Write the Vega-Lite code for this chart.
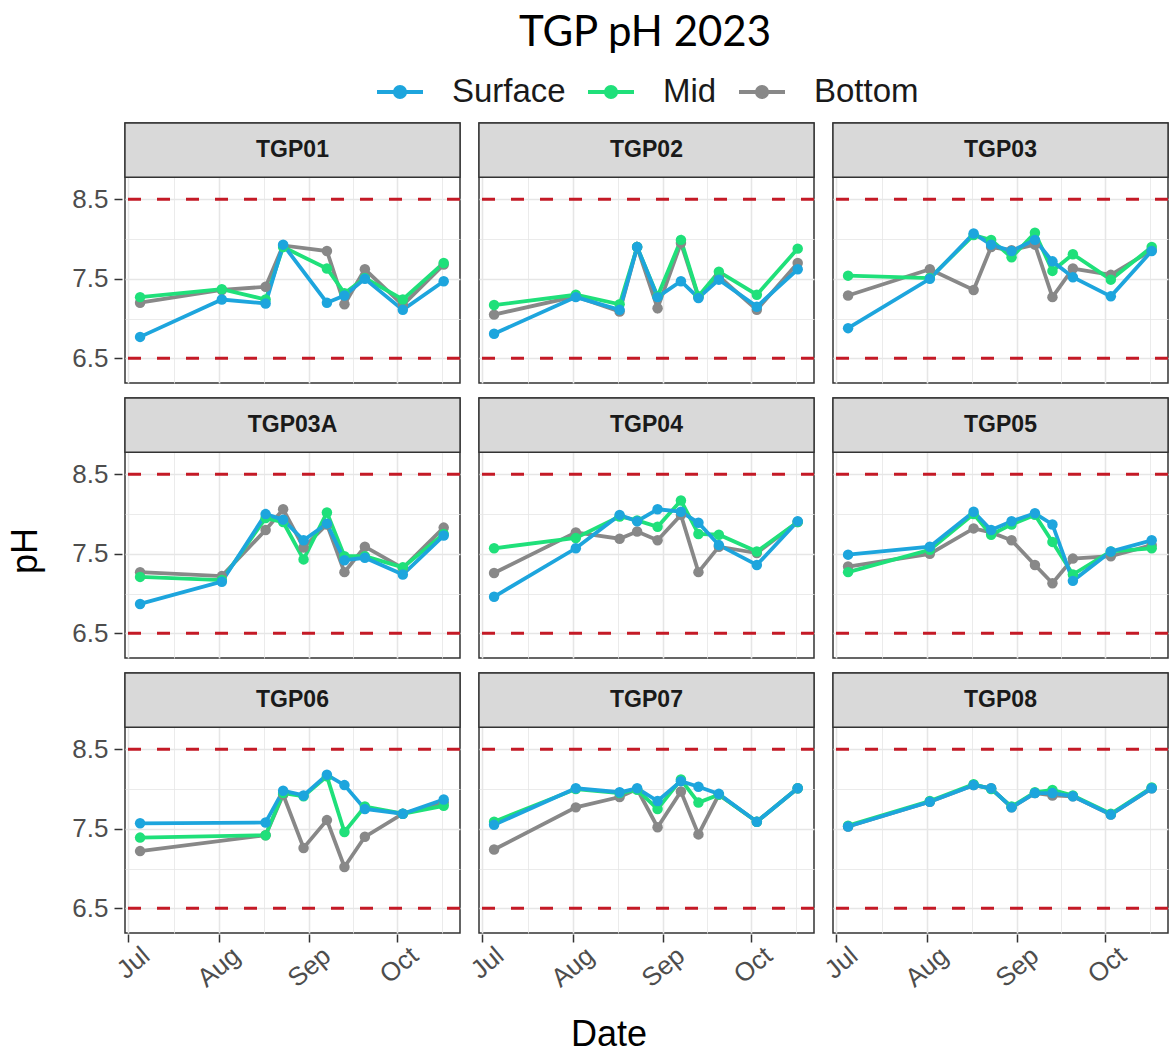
{
  "$schema": "https://vega.github.io/schema/vega-lite/v6.json",
  "background": "white",
  "padding": {"left": 8, "top": 12, "right": 0, "bottom": 0},
  "title": {"text": "TGP pH 2023", "font": "Lato", "fontSize": 42, "fontWeight": "normal", "color": "#000000", "anchor": "middle", "frame": "group", "dx": 520, "offset": 12},
  "data": {"values": [
    {"station": "TGP01", "date": "2023-07-05", "depth": "Bottom", "pH": 7.20},
    {"station": "TGP01", "date": "2023-08-02", "depth": "Bottom", "pH": 7.36},
    {"station": "TGP01", "date": "2023-08-17", "depth": "Bottom", "pH": 7.40},
    {"station": "TGP01", "date": "2023-08-23", "depth": "Bottom", "pH": 7.92},
    {"station": "TGP01", "date": "2023-09-07", "depth": "Bottom", "pH": 7.85},
    {"station": "TGP01", "date": "2023-09-13", "depth": "Bottom", "pH": 7.18},
    {"station": "TGP01", "date": "2023-09-20", "depth": "Bottom", "pH": 7.62},
    {"station": "TGP01", "date": "2023-10-03", "depth": "Bottom", "pH": 7.17},
    {"station": "TGP01", "date": "2023-10-17", "depth": "Bottom", "pH": 7.68},
    {"station": "TGP01", "date": "2023-07-05", "depth": "Mid", "pH": 7.27},
    {"station": "TGP01", "date": "2023-08-02", "depth": "Mid", "pH": 7.37},
    {"station": "TGP01", "date": "2023-08-17", "depth": "Mid", "pH": 7.24},
    {"station": "TGP01", "date": "2023-08-23", "depth": "Mid", "pH": 7.90},
    {"station": "TGP01", "date": "2023-09-07", "depth": "Mid", "pH": 7.63},
    {"station": "TGP01", "date": "2023-09-13", "depth": "Mid", "pH": 7.32},
    {"station": "TGP01", "date": "2023-09-20", "depth": "Mid", "pH": 7.51},
    {"station": "TGP01", "date": "2023-10-03", "depth": "Mid", "pH": 7.24},
    {"station": "TGP01", "date": "2023-10-17", "depth": "Mid", "pH": 7.70},
    {"station": "TGP01", "date": "2023-07-05", "depth": "Surface", "pH": 6.77},
    {"station": "TGP01", "date": "2023-08-02", "depth": "Surface", "pH": 7.24},
    {"station": "TGP01", "date": "2023-08-17", "depth": "Surface", "pH": 7.19},
    {"station": "TGP01", "date": "2023-08-23", "depth": "Surface", "pH": 7.93},
    {"station": "TGP01", "date": "2023-09-07", "depth": "Surface", "pH": 7.20},
    {"station": "TGP01", "date": "2023-09-13", "depth": "Surface", "pH": 7.29},
    {"station": "TGP01", "date": "2023-09-20", "depth": "Surface", "pH": 7.50},
    {"station": "TGP01", "date": "2023-10-03", "depth": "Surface", "pH": 7.11},
    {"station": "TGP01", "date": "2023-10-17", "depth": "Surface", "pH": 7.47},

    {"station": "TGP02", "date": "2023-07-05", "depth": "Bottom", "pH": 7.05},
    {"station": "TGP02", "date": "2023-08-02", "depth": "Bottom", "pH": 7.28},
    {"station": "TGP02", "date": "2023-08-17", "depth": "Bottom", "pH": 7.09},
    {"station": "TGP02", "date": "2023-08-23", "depth": "Bottom", "pH": 7.90},
    {"station": "TGP02", "date": "2023-08-30", "depth": "Bottom", "pH": 7.13},
    {"station": "TGP02", "date": "2023-09-07", "depth": "Bottom", "pH": 7.95},
    {"station": "TGP02", "date": "2023-09-13", "depth": "Bottom", "pH": 7.27},
    {"station": "TGP02", "date": "2023-09-20", "depth": "Bottom", "pH": 7.53},
    {"station": "TGP02", "date": "2023-10-03", "depth": "Bottom", "pH": 7.11},
    {"station": "TGP02", "date": "2023-10-17", "depth": "Bottom", "pH": 7.70},
    {"station": "TGP02", "date": "2023-07-05", "depth": "Mid", "pH": 7.17},
    {"station": "TGP02", "date": "2023-08-02", "depth": "Mid", "pH": 7.30},
    {"station": "TGP02", "date": "2023-08-17", "depth": "Mid", "pH": 7.18},
    {"station": "TGP02", "date": "2023-08-23", "depth": "Mid", "pH": 7.90},
    {"station": "TGP02", "date": "2023-08-30", "depth": "Mid", "pH": 7.28},
    {"station": "TGP02", "date": "2023-09-07", "depth": "Mid", "pH": 7.99},
    {"station": "TGP02", "date": "2023-09-13", "depth": "Mid", "pH": 7.28},
    {"station": "TGP02", "date": "2023-09-20", "depth": "Mid", "pH": 7.59},
    {"station": "TGP02", "date": "2023-10-03", "depth": "Mid", "pH": 7.30},
    {"station": "TGP02", "date": "2023-10-17", "depth": "Mid", "pH": 7.88},
    {"station": "TGP02", "date": "2023-07-05", "depth": "Surface", "pH": 6.81},
    {"station": "TGP02", "date": "2023-08-02", "depth": "Surface", "pH": 7.27},
    {"station": "TGP02", "date": "2023-08-17", "depth": "Surface", "pH": 7.11},
    {"station": "TGP02", "date": "2023-08-23", "depth": "Surface", "pH": 7.90},
    {"station": "TGP02", "date": "2023-08-30", "depth": "Surface", "pH": 7.27},
    {"station": "TGP02", "date": "2023-09-07", "depth": "Surface", "pH": 7.47},
    {"station": "TGP02", "date": "2023-09-13", "depth": "Surface", "pH": 7.26},
    {"station": "TGP02", "date": "2023-09-20", "depth": "Surface", "pH": 7.49},
    {"station": "TGP02", "date": "2023-10-03", "depth": "Surface", "pH": 7.15},
    {"station": "TGP02", "date": "2023-10-17", "depth": "Surface", "pH": 7.62},

    {"station": "TGP03", "date": "2023-07-05", "depth": "Bottom", "pH": 7.29},
    {"station": "TGP03", "date": "2023-08-02", "depth": "Bottom", "pH": 7.62},
    {"station": "TGP03", "date": "2023-08-17", "depth": "Bottom", "pH": 7.36},
    {"station": "TGP03", "date": "2023-08-23", "depth": "Bottom", "pH": 7.90},
    {"station": "TGP03", "date": "2023-08-30", "depth": "Bottom", "pH": 7.86},
    {"station": "TGP03", "date": "2023-09-07", "depth": "Bottom", "pH": 7.93},
    {"station": "TGP03", "date": "2023-09-13", "depth": "Bottom", "pH": 7.27},
    {"station": "TGP03", "date": "2023-09-20", "depth": "Bottom", "pH": 7.63},
    {"station": "TGP03", "date": "2023-10-03", "depth": "Bottom", "pH": 7.55},
    {"station": "TGP03", "date": "2023-10-17", "depth": "Bottom", "pH": 7.86},
    {"station": "TGP03", "date": "2023-07-05", "depth": "Mid", "pH": 7.54},
    {"station": "TGP03", "date": "2023-08-02", "depth": "Mid", "pH": 7.51},
    {"station": "TGP03", "date": "2023-08-17", "depth": "Mid", "pH": 8.05},
    {"station": "TGP03", "date": "2023-08-23", "depth": "Mid", "pH": 7.99},
    {"station": "TGP03", "date": "2023-08-30", "depth": "Mid", "pH": 7.77},
    {"station": "TGP03", "date": "2023-09-07", "depth": "Mid", "pH": 8.08},
    {"station": "TGP03", "date": "2023-09-13", "depth": "Mid", "pH": 7.60},
    {"station": "TGP03", "date": "2023-09-20", "depth": "Mid", "pH": 7.81},
    {"station": "TGP03", "date": "2023-10-03", "depth": "Mid", "pH": 7.49},
    {"station": "TGP03", "date": "2023-10-17", "depth": "Mid", "pH": 7.90},
    {"station": "TGP03", "date": "2023-07-05", "depth": "Surface", "pH": 6.88},
    {"station": "TGP03", "date": "2023-08-02", "depth": "Surface", "pH": 7.50},
    {"station": "TGP03", "date": "2023-08-17", "depth": "Surface", "pH": 8.07},
    {"station": "TGP03", "date": "2023-08-23", "depth": "Surface", "pH": 7.93},
    {"station": "TGP03", "date": "2023-08-30", "depth": "Surface", "pH": 7.85},
    {"station": "TGP03", "date": "2023-09-07", "depth": "Surface", "pH": 7.99},
    {"station": "TGP03", "date": "2023-09-13", "depth": "Surface", "pH": 7.72},
    {"station": "TGP03", "date": "2023-09-20", "depth": "Surface", "pH": 7.52},
    {"station": "TGP03", "date": "2023-10-03", "depth": "Surface", "pH": 7.28},
    {"station": "TGP03", "date": "2023-10-17", "depth": "Surface", "pH": 7.85},

    {"station": "TGP03A", "date": "2023-07-05", "depth": "Bottom", "pH": 7.27},
    {"station": "TGP03A", "date": "2023-08-02", "depth": "Bottom", "pH": 7.22},
    {"station": "TGP03A", "date": "2023-08-17", "depth": "Bottom", "pH": 7.80},
    {"station": "TGP03A", "date": "2023-08-23", "depth": "Bottom", "pH": 8.06},
    {"station": "TGP03A", "date": "2023-08-30", "depth": "Bottom", "pH": 7.58},
    {"station": "TGP03A", "date": "2023-09-07", "depth": "Bottom", "pH": 7.87},
    {"station": "TGP03A", "date": "2023-09-13", "depth": "Bottom", "pH": 7.27},
    {"station": "TGP03A", "date": "2023-09-20", "depth": "Bottom", "pH": 7.59},
    {"station": "TGP03A", "date": "2023-10-03", "depth": "Bottom", "pH": 7.32},
    {"station": "TGP03A", "date": "2023-10-17", "depth": "Bottom", "pH": 7.83},
    {"station": "TGP03A", "date": "2023-07-05", "depth": "Mid", "pH": 7.21},
    {"station": "TGP03A", "date": "2023-08-02", "depth": "Mid", "pH": 7.17},
    {"station": "TGP03A", "date": "2023-08-17", "depth": "Mid", "pH": 7.95},
    {"station": "TGP03A", "date": "2023-08-23", "depth": "Mid", "pH": 7.90},
    {"station": "TGP03A", "date": "2023-08-30", "depth": "Mid", "pH": 7.43},
    {"station": "TGP03A", "date": "2023-09-07", "depth": "Mid", "pH": 8.02},
    {"station": "TGP03A", "date": "2023-09-13", "depth": "Mid", "pH": 7.47},
    {"station": "TGP03A", "date": "2023-09-20", "depth": "Mid", "pH": 7.47},
    {"station": "TGP03A", "date": "2023-10-03", "depth": "Mid", "pH": 7.33},
    {"station": "TGP03A", "date": "2023-10-17", "depth": "Mid", "pH": 7.75},
    {"station": "TGP03A", "date": "2023-07-05", "depth": "Surface", "pH": 6.87},
    {"station": "TGP03A", "date": "2023-08-02", "depth": "Surface", "pH": 7.15},
    {"station": "TGP03A", "date": "2023-08-17", "depth": "Surface", "pH": 8.00},
    {"station": "TGP03A", "date": "2023-08-23", "depth": "Surface", "pH": 7.93},
    {"station": "TGP03A", "date": "2023-08-30", "depth": "Surface", "pH": 7.67},
    {"station": "TGP03A", "date": "2023-09-07", "depth": "Surface", "pH": 7.88},
    {"station": "TGP03A", "date": "2023-09-13", "depth": "Surface", "pH": 7.42},
    {"station": "TGP03A", "date": "2023-09-20", "depth": "Surface", "pH": 7.45},
    {"station": "TGP03A", "date": "2023-10-03", "depth": "Surface", "pH": 7.24},
    {"station": "TGP03A", "date": "2023-10-17", "depth": "Surface", "pH": 7.73},

    {"station": "TGP04", "date": "2023-07-05", "depth": "Bottom", "pH": 7.26},
    {"station": "TGP04", "date": "2023-08-02", "depth": "Bottom", "pH": 7.77},
    {"station": "TGP04", "date": "2023-08-17", "depth": "Bottom", "pH": 7.69},
    {"station": "TGP04", "date": "2023-08-23", "depth": "Bottom", "pH": 7.78},
    {"station": "TGP04", "date": "2023-08-30", "depth": "Bottom", "pH": 7.67},
    {"station": "TGP04", "date": "2023-09-07", "depth": "Bottom", "pH": 7.99},
    {"station": "TGP04", "date": "2023-09-13", "depth": "Bottom", "pH": 7.27},
    {"station": "TGP04", "date": "2023-09-20", "depth": "Bottom", "pH": 7.59},
    {"station": "TGP04", "date": "2023-10-03", "depth": "Bottom", "pH": 7.51},
    {"station": "TGP04", "date": "2023-10-17", "depth": "Bottom", "pH": 7.90},
    {"station": "TGP04", "date": "2023-07-05", "depth": "Mid", "pH": 7.57},
    {"station": "TGP04", "date": "2023-08-02", "depth": "Mid", "pH": 7.70},
    {"station": "TGP04", "date": "2023-08-17", "depth": "Mid", "pH": 7.97},
    {"station": "TGP04", "date": "2023-08-23", "depth": "Mid", "pH": 7.92},
    {"station": "TGP04", "date": "2023-08-30", "depth": "Mid", "pH": 7.84},
    {"station": "TGP04", "date": "2023-09-07", "depth": "Mid", "pH": 8.17},
    {"station": "TGP04", "date": "2023-09-13", "depth": "Mid", "pH": 7.75},
    {"station": "TGP04", "date": "2023-09-20", "depth": "Mid", "pH": 7.74},
    {"station": "TGP04", "date": "2023-10-03", "depth": "Mid", "pH": 7.53},
    {"station": "TGP04", "date": "2023-10-17", "depth": "Mid", "pH": 7.90},
    {"station": "TGP04", "date": "2023-07-05", "depth": "Surface", "pH": 6.96},
    {"station": "TGP04", "date": "2023-08-02", "depth": "Surface", "pH": 7.57},
    {"station": "TGP04", "date": "2023-08-17", "depth": "Surface", "pH": 7.99},
    {"station": "TGP04", "date": "2023-08-23", "depth": "Surface", "pH": 7.91},
    {"station": "TGP04", "date": "2023-08-30", "depth": "Surface", "pH": 8.06},
    {"station": "TGP04", "date": "2023-09-07", "depth": "Surface", "pH": 8.03},
    {"station": "TGP04", "date": "2023-09-13", "depth": "Surface", "pH": 7.89},
    {"station": "TGP04", "date": "2023-09-20", "depth": "Surface", "pH": 7.61},
    {"station": "TGP04", "date": "2023-10-03", "depth": "Surface", "pH": 7.36},
    {"station": "TGP04", "date": "2023-10-17", "depth": "Surface", "pH": 7.91},

    {"station": "TGP05", "date": "2023-07-05", "depth": "Bottom", "pH": 7.34},
    {"station": "TGP05", "date": "2023-08-02", "depth": "Bottom", "pH": 7.50},
    {"station": "TGP05", "date": "2023-08-17", "depth": "Bottom", "pH": 7.82},
    {"station": "TGP05", "date": "2023-08-23", "depth": "Bottom", "pH": 7.77},
    {"station": "TGP05", "date": "2023-08-30", "depth": "Bottom", "pH": 7.67},
    {"station": "TGP05", "date": "2023-09-07", "depth": "Bottom", "pH": 7.36},
    {"station": "TGP05", "date": "2023-09-13", "depth": "Bottom", "pH": 7.13},
    {"station": "TGP05", "date": "2023-09-20", "depth": "Bottom", "pH": 7.44},
    {"station": "TGP05", "date": "2023-10-03", "depth": "Bottom", "pH": 7.47},
    {"station": "TGP05", "date": "2023-10-17", "depth": "Bottom", "pH": 7.61},
    {"station": "TGP05", "date": "2023-07-05", "depth": "Mid", "pH": 7.27},
    {"station": "TGP05", "date": "2023-08-02", "depth": "Mid", "pH": 7.55},
    {"station": "TGP05", "date": "2023-08-17", "depth": "Mid", "pH": 8.00},
    {"station": "TGP05", "date": "2023-08-23", "depth": "Mid", "pH": 7.74},
    {"station": "TGP05", "date": "2023-08-30", "depth": "Mid", "pH": 7.87},
    {"station": "TGP05", "date": "2023-09-07", "depth": "Mid", "pH": 7.99},
    {"station": "TGP05", "date": "2023-09-13", "depth": "Mid", "pH": 7.65},
    {"station": "TGP05", "date": "2023-09-20", "depth": "Mid", "pH": 7.24},
    {"station": "TGP05", "date": "2023-10-03", "depth": "Mid", "pH": 7.53},
    {"station": "TGP05", "date": "2023-10-17", "depth": "Mid", "pH": 7.57},
    {"station": "TGP05", "date": "2023-07-05", "depth": "Surface", "pH": 7.49},
    {"station": "TGP05", "date": "2023-08-02", "depth": "Surface", "pH": 7.59},
    {"station": "TGP05", "date": "2023-08-17", "depth": "Surface", "pH": 8.03},
    {"station": "TGP05", "date": "2023-08-23", "depth": "Surface", "pH": 7.80},
    {"station": "TGP05", "date": "2023-08-30", "depth": "Surface", "pH": 7.91},
    {"station": "TGP05", "date": "2023-09-07", "depth": "Surface", "pH": 8.01},
    {"station": "TGP05", "date": "2023-09-13", "depth": "Surface", "pH": 7.87},
    {"station": "TGP05", "date": "2023-09-20", "depth": "Surface", "pH": 7.16},
    {"station": "TGP05", "date": "2023-10-03", "depth": "Surface", "pH": 7.53},
    {"station": "TGP05", "date": "2023-10-17", "depth": "Surface", "pH": 7.67},

    {"station": "TGP06", "date": "2023-07-05", "depth": "Bottom", "pH": 7.22},
    {"station": "TGP06", "date": "2023-08-17", "depth": "Bottom", "pH": 7.42},
    {"station": "TGP06", "date": "2023-08-23", "depth": "Bottom", "pH": 7.93},
    {"station": "TGP06", "date": "2023-08-30", "depth": "Bottom", "pH": 7.26},
    {"station": "TGP06", "date": "2023-09-07", "depth": "Bottom", "pH": 7.61},
    {"station": "TGP06", "date": "2023-09-13", "depth": "Bottom", "pH": 7.02},
    {"station": "TGP06", "date": "2023-09-20", "depth": "Bottom", "pH": 7.40},
    {"station": "TGP06", "date": "2023-10-03", "depth": "Bottom", "pH": 7.69},
    {"station": "TGP06", "date": "2023-10-17", "depth": "Bottom", "pH": 7.83},
    {"station": "TGP06", "date": "2023-07-05", "depth": "Mid", "pH": 7.39},
    {"station": "TGP06", "date": "2023-08-17", "depth": "Mid", "pH": 7.42},
    {"station": "TGP06", "date": "2023-08-23", "depth": "Mid", "pH": 7.95},
    {"station": "TGP06", "date": "2023-08-30", "depth": "Mid", "pH": 7.91},
    {"station": "TGP06", "date": "2023-09-07", "depth": "Mid", "pH": 8.16},
    {"station": "TGP06", "date": "2023-09-13", "depth": "Mid", "pH": 7.46},
    {"station": "TGP06", "date": "2023-09-20", "depth": "Mid", "pH": 7.78},
    {"station": "TGP06", "date": "2023-10-03", "depth": "Mid", "pH": 7.69},
    {"station": "TGP06", "date": "2023-10-17", "depth": "Mid", "pH": 7.79},
    {"station": "TGP06", "date": "2023-07-05", "depth": "Surface", "pH": 7.57},
    {"station": "TGP06", "date": "2023-08-17", "depth": "Surface", "pH": 7.58},
    {"station": "TGP06", "date": "2023-08-23", "depth": "Surface", "pH": 7.98},
    {"station": "TGP06", "date": "2023-08-30", "depth": "Surface", "pH": 7.92},
    {"station": "TGP06", "date": "2023-09-07", "depth": "Surface", "pH": 8.18},
    {"station": "TGP06", "date": "2023-09-13", "depth": "Surface", "pH": 8.05},
    {"station": "TGP06", "date": "2023-09-20", "depth": "Surface", "pH": 7.75},
    {"station": "TGP06", "date": "2023-10-03", "depth": "Surface", "pH": 7.69},
    {"station": "TGP06", "date": "2023-10-17", "depth": "Surface", "pH": 7.87},

    {"station": "TGP07", "date": "2023-07-05", "depth": "Bottom", "pH": 7.24},
    {"station": "TGP07", "date": "2023-08-02", "depth": "Bottom", "pH": 7.77},
    {"station": "TGP07", "date": "2023-08-17", "depth": "Bottom", "pH": 7.90},
    {"station": "TGP07", "date": "2023-08-23", "depth": "Bottom", "pH": 8.00},
    {"station": "TGP07", "date": "2023-08-30", "depth": "Bottom", "pH": 7.52},
    {"station": "TGP07", "date": "2023-09-07", "depth": "Bottom", "pH": 7.97},
    {"station": "TGP07", "date": "2023-09-13", "depth": "Bottom", "pH": 7.43},
    {"station": "TGP07", "date": "2023-09-20", "depth": "Bottom", "pH": 7.93},
    {"station": "TGP07", "date": "2023-10-03", "depth": "Bottom", "pH": 7.59},
    {"station": "TGP07", "date": "2023-10-17", "depth": "Bottom", "pH": 8.01},
    {"station": "TGP07", "date": "2023-07-05", "depth": "Mid", "pH": 7.59},
    {"station": "TGP07", "date": "2023-08-02", "depth": "Mid", "pH": 8.00},
    {"station": "TGP07", "date": "2023-08-17", "depth": "Mid", "pH": 7.95},
    {"station": "TGP07", "date": "2023-08-23", "depth": "Mid", "pH": 7.99},
    {"station": "TGP07", "date": "2023-08-30", "depth": "Mid", "pH": 7.75},
    {"station": "TGP07", "date": "2023-09-07", "depth": "Mid", "pH": 8.12},
    {"station": "TGP07", "date": "2023-09-13", "depth": "Mid", "pH": 7.83},
    {"station": "TGP07", "date": "2023-09-20", "depth": "Mid", "pH": 7.93},
    {"station": "TGP07", "date": "2023-10-03", "depth": "Mid", "pH": 7.59},
    {"station": "TGP07", "date": "2023-10-17", "depth": "Mid", "pH": 8.01},
    {"station": "TGP07", "date": "2023-07-05", "depth": "Surface", "pH": 7.55},
    {"station": "TGP07", "date": "2023-08-02", "depth": "Surface", "pH": 8.01},
    {"station": "TGP07", "date": "2023-08-17", "depth": "Surface", "pH": 7.96},
    {"station": "TGP07", "date": "2023-08-23", "depth": "Surface", "pH": 8.01},
    {"station": "TGP07", "date": "2023-08-30", "depth": "Surface", "pH": 7.85},
    {"station": "TGP07", "date": "2023-09-07", "depth": "Surface", "pH": 8.10},
    {"station": "TGP07", "date": "2023-09-13", "depth": "Surface", "pH": 8.03},
    {"station": "TGP07", "date": "2023-09-20", "depth": "Surface", "pH": 7.94},
    {"station": "TGP07", "date": "2023-10-03", "depth": "Surface", "pH": 7.59},
    {"station": "TGP07", "date": "2023-10-17", "depth": "Surface", "pH": 8.01},

    {"station": "TGP08", "date": "2023-07-05", "depth": "Bottom", "pH": 7.53},
    {"station": "TGP08", "date": "2023-08-02", "depth": "Bottom", "pH": 7.84},
    {"station": "TGP08", "date": "2023-08-17", "depth": "Bottom", "pH": 8.05},
    {"station": "TGP08", "date": "2023-08-23", "depth": "Bottom", "pH": 8.01},
    {"station": "TGP08", "date": "2023-08-30", "depth": "Bottom", "pH": 7.77},
    {"station": "TGP08", "date": "2023-09-07", "depth": "Bottom", "pH": 7.95},
    {"station": "TGP08", "date": "2023-09-13", "depth": "Bottom", "pH": 7.92},
    {"station": "TGP08", "date": "2023-09-20", "depth": "Bottom", "pH": 7.91},
    {"station": "TGP08", "date": "2023-10-03", "depth": "Bottom", "pH": 7.68},
    {"station": "TGP08", "date": "2023-10-17", "depth": "Bottom", "pH": 8.01},
    {"station": "TGP08", "date": "2023-07-05", "depth": "Mid", "pH": 7.54},
    {"station": "TGP08", "date": "2023-08-02", "depth": "Mid", "pH": 7.85},
    {"station": "TGP08", "date": "2023-08-17", "depth": "Mid", "pH": 8.06},
    {"station": "TGP08", "date": "2023-08-23", "depth": "Mid", "pH": 8.00},
    {"station": "TGP08", "date": "2023-08-30", "depth": "Mid", "pH": 7.78},
    {"station": "TGP08", "date": "2023-09-07", "depth": "Mid", "pH": 7.96},
    {"station": "TGP08", "date": "2023-09-13", "depth": "Mid", "pH": 7.99},
    {"station": "TGP08", "date": "2023-09-20", "depth": "Mid", "pH": 7.92},
    {"station": "TGP08", "date": "2023-10-03", "depth": "Mid", "pH": 7.69},
    {"station": "TGP08", "date": "2023-10-17", "depth": "Mid", "pH": 8.02},
    {"station": "TGP08", "date": "2023-07-05", "depth": "Surface", "pH": 7.53},
    {"station": "TGP08", "date": "2023-08-02", "depth": "Surface", "pH": 7.84},
    {"station": "TGP08", "date": "2023-08-17", "depth": "Surface", "pH": 8.05},
    {"station": "TGP08", "date": "2023-08-23", "depth": "Surface", "pH": 8.01},
    {"station": "TGP08", "date": "2023-08-30", "depth": "Surface", "pH": 7.77},
    {"station": "TGP08", "date": "2023-09-07", "depth": "Surface", "pH": 7.95},
    {"station": "TGP08", "date": "2023-09-13", "depth": "Surface", "pH": 7.95},
    {"station": "TGP08", "date": "2023-09-20", "depth": "Surface", "pH": 7.91},
    {"station": "TGP08", "date": "2023-10-03", "depth": "Surface", "pH": 7.68},
    {"station": "TGP08", "date": "2023-10-17", "depth": "Surface", "pH": 8.01}
  ]},
  "transform": [
    {"calculate": "indexof(['TGP01','TGP02','TGP03','TGP03A','TGP04','TGP05','TGP06','TGP07','TGP08'], datum.station)", "as": "k"},
    {"calculate": "floor(datum.k / 3)", "as": "r"},
    {"calculate": "datum.k % 3", "as": "c"}
  ],
  "facet": {
    "row": {"field": "r", "type": "ordinal", "header": {"labels": false, "title": "pH", "titleAlign": "right", "titleFont": "Liberation Sans", "titleFontSize": 36, "titleFontWeight": "normal", "titleColor": "#000000", "titlePadding": 16}},
    "column": {"field": "c", "type": "ordinal", "header": {"labels": false, "title": "Date", "titleAlign": "right", "titleOrient": "bottom", "titleFont": "Liberation Sans", "titleFontSize": 36, "titleFontWeight": "normal", "titleColor": "#000000", "titlePadding": 16}}
  },
  "spacing": {"row": 12, "column": 13},
  "spec": {
    "width": 335,
    "height": 260,
    "encoding": {
      "x": {
        "field": "date", "type": "temporal",
        "scale": {"type": "utc", "domain": [
          {"year": 2023, "month": 6, "date": 29, "hours": 20, "utc": true},
          {"year": 2023, "month": 10, "date": 22, "hours": 14, "utc": true}
        ]},
        "axis": {
          "title": null,
          "values": [
            {"year": 2023, "month": 7, "date": 1, "utc": true},
            {"year": 2023, "month": 7, "date": 16, "hours": 12, "utc": true},
            {"year": 2023, "month": 8, "date": 1, "utc": true},
            {"year": 2023, "month": 8, "date": 16, "hours": 12, "utc": true},
            {"year": 2023, "month": 9, "date": 1, "utc": true},
            {"year": 2023, "month": 9, "date": 16, "utc": true},
            {"year": 2023, "month": 10, "date": 1, "utc": true},
            {"year": 2023, "month": 10, "date": 16, "hours": 12, "utc": true}
          ],
          "labelExpr": "utcdate(datum.value) == 1 ? utcFormat(datum.value, '%b') : ''",
          "labelAngle": -40, "labelAlign": "right", "labelBaseline": "top",
          "labelFont": "Liberation Sans", "labelFontSize": 26, "labelColor": "#4d4d4d",
          "labelPadding": 0, "labelOffset": 9, "labelFlush": false, "labelOverlap": false,
          "domain": false,
          "tickColor": "#333333", "tickSize": 8, "tickWidth": 1.5,
          "tickOpacity": {"condition": {"test": "utcdate(datum.value) != 1", "value": 0}, "value": 1},
          "grid": true, "gridColor": "#e6e6e6",
          "gridWidth": {"condition": {"test": "utcdate(datum.value) != 1", "value": 0.8}, "value": 1.6}
        }
      },
      "y": {
        "type": "quantitative",
        "scale": {"domain": [6.19, 9.46], "zero": false, "nice": false},
        "axis": {
          "title": null,
          "values": [6.5, 7, 7.5, 8, 8.5],
          "labelExpr": "datum.value == 7 || datum.value == 8 ? '' : format(datum.value, '.1f')",
          "labelFont": "Liberation Sans", "labelFontSize": 26, "labelColor": "#4d4d4d", "labelPadding": 6,
          "domain": false,
          "tickColor": "#333333", "tickSize": 8, "tickWidth": 1.5,
          "tickOpacity": {"condition": {"test": "datum.value == 7 || datum.value == 8", "value": 0}, "value": 1},
          "grid": true, "gridColor": "#e6e6e6",
          "gridWidth": {"condition": {"test": "datum.value == 7 || datum.value == 8", "value": 0.8}, "value": 1.6}
        }
      }
    },
    "layer": [
      {
        "transform": [{"aggregate": [{"op": "count", "as": "n"}], "groupby": ["station"]}],
        "mark": {"type": "rule", "color": "#c41a26", "strokeWidth": 3, "strokeDash": [13, 16]},
        "encoding": {"x": null, "y": {"datum": 6.5, "type": "quantitative"}}
      },
      {
        "transform": [{"aggregate": [{"op": "count", "as": "n"}], "groupby": ["station"]}],
        "mark": {"type": "rule", "color": "#c41a26", "strokeWidth": 3, "strokeDash": [13, 16]},
        "encoding": {"x": null, "y": {"datum": 8.5, "type": "quantitative"}}
      },
      {
        "mark": {"type": "line", "strokeWidth": 3.8},
        "encoding": {
          "y": {"field": "pH", "type": "quantitative"},
          "color": {
            "field": "depth", "type": "nominal",
            "scale": {"domain": ["Surface", "Mid", "Bottom"], "range": ["#1da5dd", "#1fe07a", "#888888"]},
            "legend": {
              "title": null, "orient": "none", "direction": "horizontal",
              "legendX": 250, "legendY": -56,
              "symbolType": "M-1,0L1,0M0.22,0A0.22,0.22,0,1,1,-0.22,0A0.22,0.22,0,1,1,0.22,0Z",
              "symbolSize": 2116, "symbolStrokeWidth": 4,
              "labelFont": "Liberation Sans", "labelFontSize": 33, "labelColor": "#1a1a1a",
              "labelOffset": 27, "columnPadding": 14,
              "encode": {"symbols": {"update": {
                "fill": {"scale": "color", "field": "value"},
                "stroke": {"scale": "color", "field": "value"}
              }}}
            }
          }
        }
      },
      {
        "mark": {"type": "point", "filled": true, "size": 110, "opacity": 1},
        "encoding": {
          "y": {"field": "pH", "type": "quantitative"},
          "color": {"field": "depth", "type": "nominal"}
        }
      },
      {
        "transform": [{"aggregate": [{"op": "count", "as": "n"}], "groupby": ["station"]}],
        "mark": {"type": "rect", "fill": "#d9d9d9", "stroke": "#333333", "strokeWidth": 1.4},
        "encoding": {"x": null, "y": {"datum": 8.777, "type": "quantitative"}, "y2": {"datum": 9.46}}
      },
      {
        "transform": [{"aggregate": [{"op": "count", "as": "n"}], "groupby": ["station"]}],
        "mark": {"type": "text", "font": "Liberation Sans", "fontSize": 23, "fontWeight": "bold", "color": "#1a1a1a", "baseline": "middle", "align": "center"},
        "encoding": {"x": null, "y": {"datum": 9.118, "type": "quantitative"}, "text": {"field": "station"}}
      }
    ]
  },
  "resolve": {"scale": {"x": "shared", "y": "shared"}},
  "config": {
    "view": {"stroke": "#333333", "strokeWidth": 1.5},
    "axis": {"gridCap": "butt"}
  }
}
